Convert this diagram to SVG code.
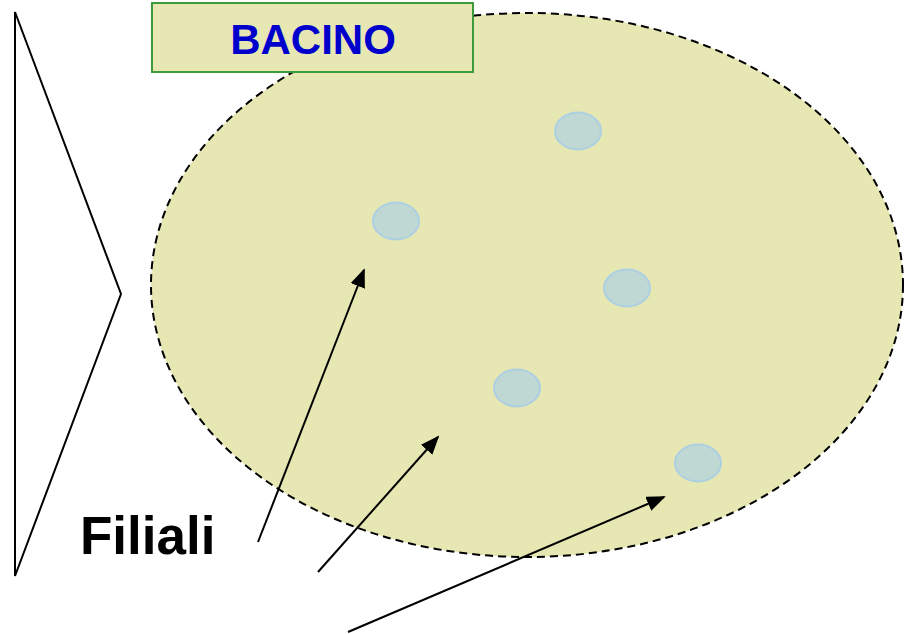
<svg xmlns="http://www.w3.org/2000/svg" width="912" height="634" viewBox="0 0 912 634">
<style>
.cell{fill:#bfd8d3;stroke:#acd0e2;stroke-width:2}
.arr{stroke:#000;stroke-width:2;fill:none;marker-end:url(#ah)}
</style>
<defs>
<marker id="ah" viewBox="0 0 10 8" refX="9" refY="4" markerWidth="9.5" markerHeight="7.6" markerUnits="strokeWidth" orient="auto">
<path d="M0,0 L10,4 L0,8 z" fill="#000"/>
</marker>
</defs>
<rect width="912" height="634" fill="#fff"/>
<g id="chevron"><polygon points="15,12 121,294 15,576" fill="none" stroke="#000" stroke-width="2"/></g>
<g id="bacino-area"><ellipse cx="527" cy="285" rx="376" ry="272" fill="#e7e7b4" stroke="#000" stroke-width="2" stroke-dasharray="8,5"/></g>
<g id="bacino-label">
<rect x="152" y="3" width="321" height="69" fill="#e7e7b4" stroke="#3c9c3c" stroke-width="2"/>
<text x="313" y="54" text-anchor="middle" font-family="Liberation Sans, Arial, sans-serif" font-weight="bold" font-size="42" fill="#0000cc">BACINO</text>
</g>
<g id="cell1"><ellipse class="cell" cx="578" cy="131" rx="23" ry="18.5"/></g>
<g id="cell2"><ellipse class="cell" cx="396" cy="221" rx="23" ry="18.5"/></g>
<g id="cell3"><ellipse class="cell" cx="627" cy="288" rx="23" ry="18.5"/></g>
<g id="cell4"><ellipse class="cell" cx="517" cy="388" rx="23" ry="18.5"/></g>
<g id="cell5"><ellipse class="cell" cx="698" cy="463" rx="23" ry="18.5"/></g>
<g id="filiali"><text x="80" y="554" font-family="Liberation Sans, Arial, sans-serif" font-weight="bold" font-size="53" fill="#000">Filiali</text></g>
<g id="connectors">
<line class="arr" x1="258" y1="542" x2="364" y2="270"/>
<line class="arr" x1="318" y1="572" x2="438" y2="437"/>
<line class="arr" x1="348" y1="632" x2="664" y2="497"/>
</g>
</svg>
